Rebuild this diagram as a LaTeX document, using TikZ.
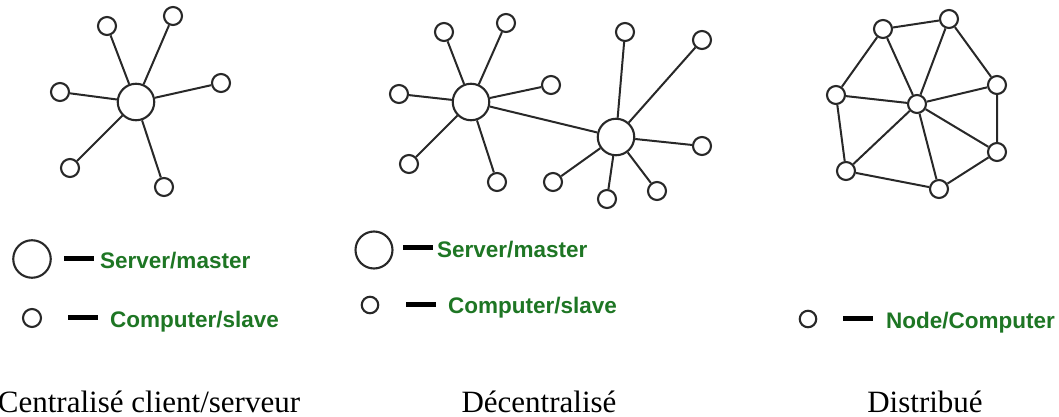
\documentclass[tikz,border=0pt]{standalone}
\usepackage{fontspec}
\setmainfont{Liberation Serif}
\newfontfamily\legfont{Liberation Sans}
\definecolor{leggreen}{RGB}{30,118,36}
\definecolor{edgegray}{RGB}{40,40,40}
\begin{document}
\begin{tikzpicture}[x=1pt,y=-1pt,
  small/.style={circle,draw=edgegray,line width=2.1pt,fill=white,inner sep=0pt,minimum size=18pt},
  big/.style={circle,draw=edgegray,line width=2.1pt,fill=white,inner sep=0pt,minimum size=36.5pt},
  link/.style={draw=edgegray,line width=2pt},
  legdash/.style={rectangle,fill=black,inner sep=0pt,minimum width=30pt,minimum height=5pt},
  legtext/.style={anchor=base west,inner sep=0pt,text=leggreen,font=\legfont\bfseries\fontsize{22.5}{24}\selectfont},
  caption/.style={anchor=base,inner sep=0pt,font=\fontsize{31}{33}\selectfont}]
\useasboundingbox (0,0) rectangle (1059,417);

% ---------- Centralised ----------
\node[big]   (c)  at (136,102) {};
\node[small] (c1) at (107,26) {};
\node[small] (c2) at (173,16) {};
\node[small] (c3) at (221,83) {};
\node[small] (c4) at (60,92) {};
\node[small] (c5) at (70,168) {};
\node[small] (c6) at (164,187) {};
\foreach \n in {c1,c2,c3,c4,c5,c6} \draw[link] (c) -- (\n);

% ---------- Decentralised ----------
\node[big]   (dl)  at (471,102) {};
\node[small] (dl1) at (444,32) {};
\node[small] (dl2) at (506,23) {};
\node[small] (dl3) at (551,85) {};
\node[small] (dl4) at (399,94) {};
\node[small] (dl5) at (409,164) {};
\node[small] (dl6) at (497,182) {};
\foreach \n in {dl1,dl2,dl3,dl4,dl5,dl6} \draw[link] (dl) -- (\n);
\node[big]   (dr)  at (616,137) {};
\node[small] (dr1) at (625,32) {};
\node[small] (dr2) at (702,40) {};
\node[small] (dr3) at (702,146) {};
\node[small] (dr4) at (657,191) {};
\node[small] (dr5) at (607,199) {};
\node[small] (dr6) at (553,182) {};
\foreach \n in {dr1,dr2,dr3,dr4,dr5,dr6} \draw[link] (dr) -- (\n);
\draw[link] (dl) -- (dr);

% ---------- Distributed ----------
\node[small] (m)  at (917,104) {};
\node[small] (m1) at (883,29) {};
\node[small] (m2) at (949,19) {};
\node[small] (m3) at (997,85) {};
\node[small] (m4) at (997,152) {};
\node[small] (m5) at (939,189) {};
\node[small] (m6) at (846,171) {};
\node[small] (m7) at (836,95) {};
\foreach \n in {m1,m2,m3,m4,m5,m6,m7} \draw[link] (m) -- (\n);
\draw[link] (m1) -- (m2) -- (m3) -- (m4) -- (m5) -- (m6) -- (m7) -- (m1);

% ---------- Legends ----------
\node[big,minimum size=37.5pt] (lc1) at (32,259) {};
\node[legdash] (lcd1) at (79,258) {};
\node[legtext] (lct1) at (100,268) {Server/master};
\node[small] (lc2) at (32,318) {};
\node[legdash] (lcd2) at (83,317) {};
\node[legtext] (lct2) at (110,327) {Computer/slave};

\node[big,minimum size=37pt] (ld1) at (374,250) {};
\node[legdash] (ldd1) at (418,247) {};
\node[legtext] (ldt1) at (437,257) {Server/master};
\node[small,minimum size=16.5pt] (ld2) at (370,305) {};
\node[legdash] (ldd2) at (421,304) {};
\node[legtext] (ldt2) at (448,313) {Computer/slave};

\node[small,minimum size=16.5pt] (lm) at (808,319) {};
\node[legdash] (lmd) at (858,318) {};
\node[legtext] (lmt) at (886,328) {Node/Computer};

% ---------- Captions ----------
\node[caption] (cap1) at (149,412) {Centralisé client/serveur};
\node[caption] (cap2) at (539,412) {Décentralisé};
\node[caption] (cap3) at (925,412) {Distribué};
\end{tikzpicture}
\end{document}
